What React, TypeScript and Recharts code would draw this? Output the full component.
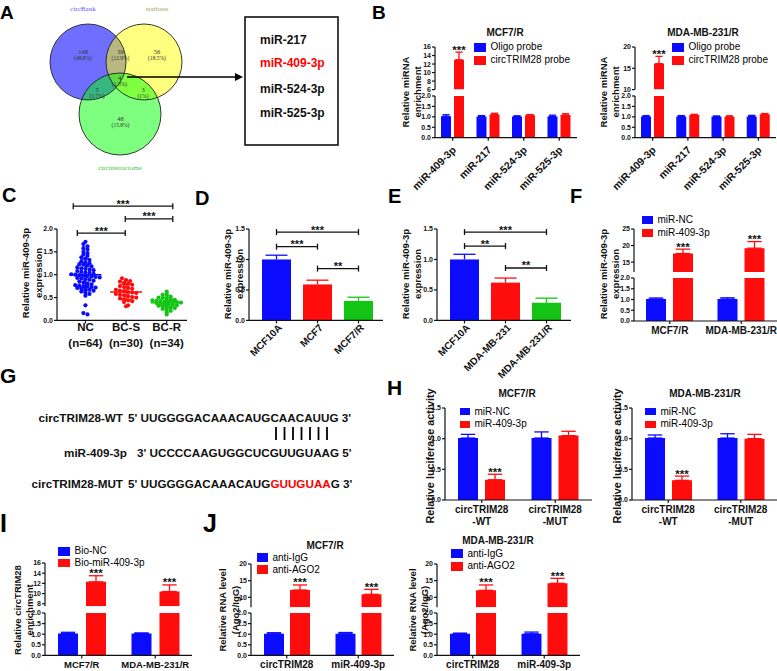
import React from 'react';
import {
  BarChart, Bar, XAxis, YAxis, ErrorBar, LabelList, Legend,
  ReferenceLine, ScatterChart, Scatter,
} from 'recharts';

const FONT = "'Liberation Sans', Arial, sans-serif";
const BLUE = '#0b0bff';
const RED = '#ff0d0d';
const GREEN = '#14c414';
const INK = '#111';

// ---- A: venn + shared miRNAs
const vennSets = ['circBank', 'starbase', 'circinteractome'];
const vennCounts = [148, 39, 56, 4, 5, 3, 48];
const vennShares = ['48.8%', '12.9%', '18.5%', '1.3%', '1.7%', '1%', '15.8%'];
const sharedMirs = ['miR-217', 'miR-409-3p', 'miR-524-3p', 'miR-525-3p'];
const highlightMir = 'miR-409-3p';

// ---- B: pull-down
const bMirs = ['miR-409-3p', 'miR-217', 'miR-524-3p', 'miR-525-3p'];
const bSig = ['***', '', '', ''];
const bMcfOligo = [1.03, 1.02, 1.02, 1.02];
const bMcfOligoErr = [0.07, 0.04, 0.03, 0.06];
const bMcfProbe = [13.0, 1.11, 1.08, 1.09];
const bMcfProbeErr = [1.8, 0.06, 0.03, 0.06];
const bMdaOligo = [1.02, 1.02, 1.02, 1.02];
const bMdaOligoErr = [0.04, 0.04, 0.02, 0.05];
const bMdaProbe = [16.1, 1.09, 1.01, 1.12];
const bMdaProbeErr = [1.7, 0.03, 0.04, 0.04];

// ---- C: tissue expression
const cGroups = ['NC', 'BC-S', 'BC-R'];
const cNC = [
  1.72, 1.67, 1.62, 1.58, 1.55, 1.5, 1.47, 1.44, 1.41, 1.38,
  1.35, 1.32, 1.29, 1.27, 1.25, 1.23, 1.22, 1.2, 1.18, 1.16,
  1.14, 1.13, 1.11, 1.1, 1.08, 1.06, 1.05, 1.04, 1.02, 1.01,
  1.0, 0.99, 0.98, 0.97, 0.96, 0.95, 0.94, 0.93, 0.92, 0.9,
  0.89, 0.87, 0.85, 0.83, 0.81, 0.79, 0.77, 0.76, 0.75, 0.74,
  0.73, 0.72, 0.71, 0.7, 0.69, 0.67, 0.65, 0.63, 0.61, 0.58,
  0.54, 0.33, 0.16, 0.13,
];
const cBCS = [
  0.92, 0.88, 0.86, 0.85, 0.82, 0.8, 0.78, 0.75, 0.73, 0.71,
  0.69, 0.67, 0.65, 0.64, 0.62, 0.61, 0.6, 0.58, 0.56, 0.55,
  0.53, 0.51, 0.5, 0.48, 0.46, 0.44, 0.42, 0.4, 0.33, 0.31,
];
const cBCR = [
  0.63, 0.58, 0.56, 0.55, 0.52, 0.5, 0.49, 0.47, 0.46, 0.45,
  0.44, 0.43, 0.42, 0.41, 0.41, 0.4, 0.4, 0.39, 0.38, 0.37,
  0.36, 0.35, 0.34, 0.33, 0.32, 0.31, 0.3, 0.28, 0.27, 0.25,
  0.23, 0.21, 0.18, 0.13,
];
const cBrackets = [
  { from: 0.7, to: 3.15, y: 2.5, label: '***' },
  { from: 1.98, to: 3.15, y: 2.22, label: '***' },
  { from: 0.8, to: 1.98, y: 1.91, label: '***' },
];

// ---- D / E: cell lines
const dCells = ['MCF10A', 'MCF7', 'MCF7/R'];
const dExpr = [1.0, 0.59, 0.32];
const dErr = [0.07, 0.07, 0.06];
const dBrackets = [
  { from: 'MCF10A', to: 'MCF7/R', y: 1.45, label: '***' },
  { from: 'MCF10A', to: 'MCF7', y: 1.21, label: '***' },
  { from: 'MCF7', to: 'MCF7/R', y: 0.85, label: '**' },
];
const eCells = ['MCF10A', 'MDA-MB-231', 'MDA-MB-231/R'];
const eExpr = [1.0, 0.62, 0.29];
const eErr = [0.085, 0.075, 0.075];
const eBrackets = [
  { from: 'MCF10A', to: 'MDA-MB-231/R', y: 1.45, label: '***' },
  { from: 'MCF10A', to: 'MDA-MB-231', y: 1.22, label: '**' },
  { from: 'MDA-MB-231', to: 'MDA-MB-231/R', y: 0.86, label: '**' },
];

// ---- F: mimic transfection
const resistant = ['MCF7/R', 'MDA-MB-231/R'];
const fSig = ['***', '***'];
const fNC = [1.02, 1.02];
const fNCErr = [0.05, 0.06];
const fMimic = [17.6, 19.2];
const fMimicErr = [1.3, 2.0];

// ---- G: binding sites
const seqWT = 'UUGGGGACAAACAUGCAACAUUG';
const seqMir = 'UCCCCAAGUGGCUCGUUGUAAG';
const seqMutHead = 'UUGGGGACAAACAUG';
const seqMutSite = 'GUUGUAA';
const seqMutTail = 'G';

// ---- H: luciferase
const hReporters = ['circTRIM28-WT', 'circTRIM28-MUT'];
const hSig = ['***', ''];
const hMcfNC = [1.01, 1.01];
const hMcfNCErr = [0.06, 0.1];
const hMcfMimic = [0.33, 1.05];
const hMcfMimicErr = [0.09, 0.07];
const hMdaNC = [1.01, 1.01];
const hMdaNCErr = [0.05, 0.07];
const hMdaMimic = [0.32, 1.0];
const hMdaMimicErr = [0.07, 0.07];

// ---- I: biotin pull-down
const iBioNC = [1.03, 1.03];
const iBioNCErr = [0.06, 0.03];
const iBioMir = [12.3, 10.4];
const iBioMirErr = [1.2, 1.3];

// ---- J: RIP
const jTargets = ['circTRIM28', 'miR-409-3p'];
const jSig = ['***', '***'];
const jMcfIgG = [1.02, 1.02];
const jMcfIgGErr = [0.05, 0.06];
const jMcfAgo = [12.2, 10.9];
const jMcfAgoErr = [1.5, 1.5];
const jMdaIgG = [1.02, 1.02];
const jMdaIgGErr = [0.03, 0.08];
const jMdaAgo = [12.1, 14.2];
const jMdaAgoErr = [1.6, 1.5];

const LOW_TICKS = [0, 0.5, 1, 1.5, 2];
const L = 44, T = 14, R = 8;
const AXIS = { stroke: INK, strokeWidth: 1.2 };
const Y_TICK = { fontSize: 7, fontWeight: 700, fill: INK };

const rotTick = (fs: number, dx: number, dy: number) => (p: any) => {
  const tx = p.x + dx, ty = p.y + dy;
  return (
    <text x={tx} y={ty} transform={`rotate(-45 ${tx} ${ty})`} textAnchor="end"
      fontSize={fs} fontWeight={700} fill={INK}>{p.payload.value}</text>
  );
};

const plainTick = (fs: number, dy: number, split = false) => (p: any) => {
  const v = String(p.payload.value);
  const cut = v.lastIndexOf('-');
  const parts = split && cut > 0 ? [v.slice(0, cut), v.slice(cut)] : [v];
  return (
    <text x={p.x} y={p.y + dy} textAnchor="middle" fontSize={fs} fontWeight={700} fill={INK}>
      {parts.map((s, i) => <tspan key={i} x={p.x} dy={i ? 12 : 0}>{s}</tspan>)}
    </text>
  );
};

const bracket = (label: string) => (p: any) => (
  <g stroke={INK} strokeWidth={1.3}>
    <line x1={p.x1} y1={p.y1} x2={p.x2} y2={p.y1} />
    <line x1={p.x1} y1={p.y1 - 3} x2={p.x1} y2={p.y1 + 3} />
    <line x1={p.x2} y1={p.y1 - 3} x2={p.x2} y2={p.y1 + 3} />
    <text x={(p.x1 + p.x2) / 2} y={p.y1 + 1.5} textAnchor="middle" fontSize={11}
      fontWeight={700} fill={INK} stroke="none">{label}</text>
  </g>
);

type Series = { name: string; color: string; vals: number[]; errs: number[] };
type Leg = { x: number; y: number; sw: number; sh: number; fs: number; lh: number };

function Segment(props: any) {
  const { cats, series, sig, x0, x1, y0, y1, domain, ticks, dec, xTick, xH = 60, legend, barSize, barGap } = props;
  const [lo, hi] = domain;
  const rows = cats.map((c: string, i: number) => {
    const r: any = { name: c, sig: sig ? sig[i] : '' };
    series.forEach((s: Series, k: number) => { r['v' + k] = s.vals[i]; r['e' + k] = s.errs[i]; });
    return r;
  });
  const shown = (v: number) => (lo === 0 ? v >= 0 : v > lo);
  const inRange = (v: number) => shown(v) && v <= hi;
  const k = (y1 - y0) / (hi - lo);
  const left = x0 - L, top = y0 - T;
  const last = series.length - 1;

  const sigLabel = (p: any) => {
    const row = rows[p.index];
    if (!row || !row.sig || !inRange(row['v' + last])) return null;
    const vb = p.viewBox || p;
    const yTop = vb.y - row['e' + last] * k;
    return (
      <text x={vb.x + vb.width / 2} y={yTop + 1.5} textAnchor="middle" fontSize={11.5}
        fontWeight={700} fill={INK}>{row.sig}</text>
    );
  };

  const legendContent = (p: any) => {
    const items = series.map((s: Series) => (p.payload || []).find((it: any) => it.value === s.name)).filter(Boolean);
    const l: Leg = legend;
    return (
      <div>
        {items.map((it: any, i: number) => (
          <div key={i} style={{ display: 'flex', alignItems: 'center', height: l.lh, whiteSpace: 'nowrap' }}>
            <span style={{ display: 'inline-block', width: l.sw, height: l.sh, background: it.color, marginRight: 4.5 }} />
            <span style={{ fontSize: l.fs, color: '#000', lineHeight: 1 }}>{it.value}</span>
          </div>
        ))}
      </div>
    );
  };

  return (
    <div style={{ position: 'absolute', left, top }}>
      <BarChart width={x1 - x0 + L + R} height={y1 - y0 + T + (xTick ? xH : 0)} data={rows}
        margin={{ top: T, right: R, left: 0, bottom: 0 }} barSize={barSize} barGap={barGap}>
        <XAxis dataKey="name" hide={!xTick} height={xH} interval={0} tick={xTick} tickSize={3}
          tickMargin={1} axisLine={AXIS} tickLine={AXIS} />
        <YAxis width={L} type="number" domain={domain} ticks={ticks} interval={0} allowDataOverflow
          tick={Y_TICK} tickSize={3} tickMargin={1} axisLine={AXIS} tickLine={AXIS}
          tickFormatter={(v: any) => Number(v).toFixed(dec)} />
        {series.map((s: Series, i: number) => (
          <Bar key={s.name} name={s.name} fill={s.color} isAnimationActive={false}
            dataKey={(d: any) => (shown(d['v' + i]) ? d['v' + i] : null)}>
            <ErrorBar dataKey={(d: any) => (inRange(d['v' + i]) ? [0, d['e' + i]] : null)}
              direction="y" width={barSize * 0.36} stroke={s.color} strokeWidth={1.3} />
            {i === last && sig ? <LabelList dataKey="sig" content={sigLabel} /> : null}
          </Bar>
        ))}
        {legend ? (
          <Legend layout="vertical" align="center" verticalAlign="middle" content={legendContent}
            wrapperStyle={{ left: legend.x - left, top: legend.y - (legend.lh - legend.sh) / 2 - top, width: 'auto', height: 'auto' }} />
        ) : null}
      </BarChart>
    </div>
  );
}

function Broken(props: any) {
  const { up, upDomain, upTicks, low, xTick, legend, ...rest } = props;
  return (
    <>
      <Segment {...rest} y0={up[0]} y1={up[1]} domain={upDomain} ticks={upTicks} dec={0} legend={legend} />
      <Segment {...rest} y0={low[0]} y1={low[1]} domain={[0, 2]} ticks={LOW_TICKS} dec={1} xTick={xTick} />
    </>
  );
}

function CellBars({ cats, vals, errs, x0, x1, y0, y1, brackets }: any) {
  const colors = [BLUE, RED, GREEN];
  const rows = cats.map((c: string, i: number) => ({ name: c, v: vals[i], e: errs[i], color: colors[i] }));
  const k = (y1 - y0) / 1.5;
  const shape = (p: any) => {
    const { x, y, width, height, payload } = p;
    const cx = x + width / 2, ey = y - payload.e * k, cw = width * 0.38;
    return (
      <g>
        <rect x={x} y={y} width={width} height={height} fill={payload.color} />
        <line x1={cx} x2={cx} y1={y} y2={ey} stroke={payload.color} strokeWidth={1.3} />
        <line x1={cx - cw} x2={cx + cw} y1={ey} y2={ey} stroke={payload.color} strokeWidth={1.3} />
      </g>
    );
  };
  return (
    <div style={{ position: 'absolute', left: x0 - L, top: y0 - T }}>
      <BarChart width={x1 - x0 + L + R} height={y1 - y0 + T + 60} data={rows}
        margin={{ top: T, right: R, left: 0, bottom: 0 }} barSize={29}>
        <XAxis dataKey="name" height={60} interval={0} padding={{ left: 7, right: 4 }}
          tick={rotTick(10, 6, 4)} tickSize={3} tickMargin={1} axisLine={AXIS} tickLine={AXIS} />
        <YAxis width={L} type="number" domain={[0, 1.5]} ticks={[0, 0.5, 1, 1.5]} interval={0}
          tick={Y_TICK} tickSize={3} tickMargin={1} axisLine={AXIS} tickLine={AXIS}
          tickFormatter={(v: any) => Number(v).toFixed(1)} />
        <Bar dataKey="v" shape={shape} isAnimationActive={false} />
        {brackets.map((b: any, i: number) => (
          <ReferenceLine key={i} segment={[{ x: b.from, y: b.y }, { x: b.to, y: b.y }]}
            ifOverflow="visible" shape={bracket(b.label)} />
        ))}
      </BarChart>
    </div>
  );
}

function swarm(vals: number[], cx: number, binH: number, step: number) {
  const bins = new Map<number, number[]>();
  vals.forEach((v) => {
    const b = Math.round(v / binH);
    if (!bins.has(b)) bins.set(b, []);
    bins.get(b)!.push(v);
  });
  const pts: any[] = [];
  bins.forEach((list) => list.forEach((v, i) => pts.push({ x: cx + (i - (list.length - 1) / 2) * step, y: v })));
  return pts;
}
const mean = (a: number[]) => a.reduce((s, v) => s + v, 0) / a.length;
const sd = (a: number[]) => {
  const m = mean(a);
  return Math.sqrt(a.reduce((s, v) => s + (v - m) * (v - m), 0) / (a.length - 1));
};

function PanelC() {
  const x0 = 57, x1 = 187, y0 = 229.3, y1 = 320.7;
  const groups = [cNC, cBCS, cBCR];
  const colors = [BLUE, RED, GREEN];
  const bins = [0.075, 0.09, 0.06];
  const cTick = (p: any) => {
    const i = Math.round(p.payload.value) - 1;
    return (
      <text x={p.x} y={p.y + 6.5} textAnchor="middle" fontSize={11.5} fontWeight={700} fill={INK}>
        <tspan x={p.x}>{cGroups[i]}</tspan>
        <tspan x={p.x} dy={16.5}>{`(n=${groups[i].length})`}</tspan>
      </text>
    );
  };
  return (
    <div style={{ position: 'absolute', left: x0 - L, top: y0 - T }}>
      <ScatterChart width={x1 - x0 + L + R} height={y1 - y0 + T + 40}
        margin={{ top: T, right: R, left: 0, bottom: 0 }}>
        <XAxis type="number" dataKey="x" domain={[0.3, 3.5]} ticks={[1, 2, 3]} interval={0} height={40}
          allowDataOverflow tick={cTick} tickSize={3} tickMargin={1} axisLine={AXIS} tickLine={AXIS} />
        <YAxis type="number" dataKey="y" width={L} domain={[0, 2]} ticks={LOW_TICKS} interval={0}
          allowDataOverflow tick={Y_TICK} tickSize={3} tickMargin={1} axisLine={AXIS} tickLine={AXIS}
          tickFormatter={(v: any) => Number(v).toFixed(1)} />
        {groups.map((g, i) => (
          <Scatter key={'d' + i} data={swarm(g, i + 1, bins[i], 0.1)} fill={colors[i]} isAnimationActive={false}
            shape={(p: any) => <circle cx={p.cx} cy={p.cy} r={2.1} fill={colors[i]} />} />
        ))}
        {groups.map((g, i) => (
          <Scatter key={'m' + i} data={[{ x: i + 1, y: mean(g), sd: sd(g) }]} isAnimationActive={false}
            shape={(p: any) => <line x1={p.cx - 16} x2={p.cx + 16} y1={p.cy} y2={p.cy} stroke={colors[i]} strokeWidth={1.5} />}>
            <ErrorBar dataKey="sd" direction="y" width={5} stroke={colors[i]} strokeWidth={1.3} />
          </Scatter>
        ))}
        {cBrackets.map((b, i) => (
          <ReferenceLine key={i} segment={[{ x: b.from, y: b.y }, { x: b.to, y: b.y }]}
            ifOverflow="visible" shape={bracket(b.label)} />
        ))}
      </ScatterChart>
    </div>
  );
}

const two = (aName: string, aColor: string, a: number[], ae: number[], bName: string, bColor: string, b: number[], be: number[]) => [
  { name: aName, color: aColor, vals: a, errs: ae },
  { name: bName, color: bColor, vals: b, errs: be },
];

const yTitles = [
  { lines: ['Relative miRNA', 'enrichment'], xs: [405, 417], cy: 92, fs: 9.5 },
  { lines: ['Relative miRNA', 'enrichment'], xs: [603, 615], cy: 92, fs: 9.5 },
  { lines: ['Relative miR-409-3p', 'expression'], xs: [25, 38], cy: 273, fs: 9.5 },
  { lines: ['Relative miR-409-3p', 'expression'], xs: [227, 239], cy: 274, fs: 9.5 },
  { lines: ['Relative miR-409-3p', 'expression'], xs: [405, 417], cy: 274, fs: 9.5 },
  { lines: ['Relative miR-409-3p', 'expression'], xs: [603, 615], cy: 274, fs: 9.5 },
  { lines: ['Relative luciferase activity'], xs: [430], cy: 456, fs: 10.8 },
  { lines: ['Relative luciferase activity'], xs: [617], cy: 456, fs: 10.8 },
  { lines: ['Relative circTRIM28', 'enrichment'], xs: [17, 29], cy: 610, fs: 9.5 },
  { lines: ['Relative RNA level', '(Ago2/IgG)'], xs: [222, 235], cy: 610, fs: 9.5 },
  { lines: ['Relative RNA level', '(Ago2/IgG)'], xs: [412, 424], cy: 610, fs: 9.5 },
];
const titles = [
  { t: 'MCF7/R', x: 505, y: 35.5 }, { t: 'MDA-MB-231/R', x: 703, y: 35.5 },
  { t: 'MCF7/R', x: 517, y: 397 }, { t: 'MDA-MB-231/R', x: 705, y: 397 },
  { t: 'MCF7/R', x: 325, y: 548.5 }, { t: 'MDA-MB-231/R', x: 498, y: 544 },
];
const letters: [string, number, number, number][] = [
  ['A', 0, 18.5, 19], ['B', 372, 18.5, 19], ['C', 2, 201.5, 20], ['D', 195, 205, 20],
  ['E', 388, 203, 20], ['F', 570, 203, 20], ['G', 0, 383, 21], ['H', 387, 395, 21],
  ['I', 0, 532, 25], ['J', 203, 532, 25],
];

function Overlay() {
  const circles = [
    { cx: 88, cy: 62, r: 38, fill: '#0000ff', op: 0.57 },
    { cx: 144, cy: 62, r: 38, fill: '#ffff00', op: 0.5 },
    { cx: 120, cy: 114, r: 41, fill: '#00ff00', op: 0.5 },
  ];
  const regionPos = [[83, 52], [120.5, 52], [157, 52], [119.5, 77.5], [97, 90], [143, 90], [120.5, 119]];
  const setPos = [[83, 11, '#5c5cf2'], [157, 11, '#a3a35a'], [120, 170, '#3fbf3f']];
  const mirY = [44, 67, 93, 117];
  const seq: any = { fontSize: 11.7, fontWeight: 700, fill: INK };
  return (
    <svg width={777} height={671} style={{ position: 'absolute', left: 0, top: 0, pointerEvents: 'none' }}>
      {letters.map(([t, x, y, fs]) => (
        <text key={t} x={x} y={y} fontSize={fs} fontWeight={700} fill="#000">{t}</text>
      ))}
      {/* A */}
      {circles.map((c, i) => <circle key={'f' + i} cx={c.cx} cy={c.cy} r={c.r} fill={c.fill} fillOpacity={c.op} />)}
      {circles.map((c, i) => <circle key={'s' + i} cx={c.cx} cy={c.cy} r={c.r} fill="none" stroke="#222" strokeWidth={0.9} />)}
      <g fontFamily="'Liberation Serif', serif" textAnchor="middle">
        {vennSets.map((s, i) => (
          <text key={s} x={setPos[i][0] as number} y={setPos[i][1] as number} fontSize={7} fill={setPos[i][2] as string}>{s}</text>
        ))}
        {vennCounts.map((n, i) => (
          <g key={i} fill="#333">
            <text x={regionPos[i][0]} y={regionPos[i][1] + 2} fontSize={6.5}>{n}</text>
            <text x={regionPos[i][0]} y={regionPos[i][1] + 8} fontSize={5.5}>{`(${vennShares[i]})`}</text>
          </g>
        ))}
      </g>
      <line x1={127} y1={77} x2={236} y2={77} stroke="#000" strokeWidth={1.3} />
      <polygon points="235,73 243,77 235,81" fill="#000" />
      <rect x={245} y={17} width={93} height={128} fill="none" stroke="#111" strokeWidth={1.6} />
      {sharedMirs.map((m, i) => (
        <text key={m} x={260} y={mirY[i]} fontSize={12} fontWeight={700} fill={m === highlightMir ? '#ff0000' : INK}>{m}</text>
      ))}
      {/* titles */}
      {titles.map((t, i) => (
        <text key={i} x={t.x} y={t.y} textAnchor="middle" fontSize={10} fontWeight={700} fill={INK}>{t.t}</text>
      ))}
      {yTitles.map((t, i) => t.lines.map((ln, j) => (
        <text key={i + '-' + j} x={t.xs[j]} y={t.cy} transform={`rotate(-90 ${t.xs[j]} ${t.cy})`}
          textAnchor="middle" dominantBaseline="central" fontSize={t.fs} fontWeight={700} fill={INK}>{ln}</text>
      )))}
      {/* G */}
      <text x={123} y={422} textAnchor="end" {...seq}>circTRIM28-WT</text>
      <text x={128} y={422} {...seq}>{`5' ${seqWT} 3'`}</text>
      {Array.from({ length: 7 }).map((_, i) => (
        <line key={i} x1={276 + i * 8.5} x2={276 + i * 8.5} y1={427} y2={440} stroke="#000" strokeWidth={1.8} />
      ))}
      <text x={127} y={457} textAnchor="end" {...seq}>miR-409-3p</text>
      <text x={137} y={457} {...seq}>{`3' ${seqMir} 5'`}</text>
      <text x={123} y={488} textAnchor="end" {...seq}>circTRIM28-MUT</text>
      <text x={128} y={488} {...seq}>
        {`5' ${seqMutHead}`}<tspan fill="#ff0000">{seqMutSite}</tspan>{`${seqMutTail} 3'`}
      </text>
    </svg>
  );
}

export default function App() {
  const bTick = rotTick(10.5, 4, 9);
  return (
    <div style={{ position: 'absolute', left: 0, top: 0, width: 777, height: 671, overflow: 'hidden', background: '#fff', fontFamily: FONT }}>
      <style>{'.recharts-surface{overflow:visible}'}</style>

      <Broken cats={bMirs} sig={bSig} x0={435} x1={577} barSize={10} barGap={3}
        series={two('Oligo probe', BLUE, bMcfOligo, bMcfOligoErr, 'circTRIM28 probe', RED, bMcfProbe, bMcfProbeErr)}
        up={[46.7, 89.3]} upDomain={[6, 16]} upTicks={[6, 8, 10, 12, 14, 16]} low={[96, 137.7]} xTick={bTick}
        legend={{ x: 474, y: 43, sw: 12, sh: 9, fs: 10, lh: 13 }} />
      <Broken cats={bMirs} sig={bSig} x0={635} x1={776} barSize={10} barGap={3}
        series={two('Oligo probe', BLUE, bMdaOligo, bMdaOligoErr, 'circTRIM28 probe', RED, bMdaProbe, bMdaProbeErr)}
        up={[46.7, 89.3]} upDomain={[10, 20]} upTicks={[10, 15, 20]} low={[96, 137.7]} xTick={bTick}
        legend={{ x: 672, y: 43, sw: 12, sh: 9, fs: 10, lh: 13 }} />

      <PanelC />
      <CellBars cats={dCells} vals={dExpr} errs={dErr} x0={249} x1={383} y0={229.3} y1={320.7} brackets={dBrackets} />
      <CellBars cats={eCells} vals={eExpr} errs={eErr} x0={437} x1={571} y0={229.3} y1={320.7} brackets={eBrackets} />

      <Broken cats={resistant} sig={fSig} x0={634} x1={777} barSize={20} barGap={7}
        series={two('miR-NC', BLUE, fNC, fNCErr, 'miR-409-3p', RED, fMimic, fMimicErr)}
        up={[229, 272]} upDomain={[12, 25]} upTicks={[15, 20, 25]} low={[278, 321]} xTick={plainTick(10, 8.5)}
        legend={{ x: 642, y: 216, sw: 11, sh: 8, fs: 10, lh: 12.5 }} />

      <Segment cats={hReporters} sig={hSig} x0={445} x1={592} y0={408} y1={500} domain={[0, 1.5]}
        ticks={[0, 0.5, 1, 1.5]} dec={1} barSize={20} barGap={7} xTick={plainTick(10, 9, true)}
        series={two('miR-NC', BLUE, hMcfNC, hMcfNCErr, 'miR-409-3p', RED, hMcfMimic, hMcfMimicErr)}
        legend={{ x: 460, y: 408, sw: 10, sh: 7.5, fs: 10, lh: 12.7 }} />
      <Segment cats={hReporters} sig={hSig} x0={632} x1={777} y0={408} y1={500} domain={[0, 1.5]}
        ticks={[0, 0.5, 1, 1.5]} dec={1} barSize={20} barGap={7} xTick={plainTick(10, 9, true)}
        series={two('miR-NC', BLUE, hMdaNC, hMdaNCErr, 'miR-409-3p', RED, hMdaMimic, hMdaMimicErr)}
        legend={{ x: 645, y: 408, sw: 11, sh: 7.5, fs: 10, lh: 12.7 }} />

      <Broken cats={resistant} sig={fSig} x0={45} x1={192} barSize={20} barGap={8}
        series={two('Bio-NC', BLUE, iBioNC, iBioNCErr, 'Bio-miR-409-3p', RED, iBioMir, iBioMirErr)}
        up={[563.3, 606.6]} upDomain={[7.5, 16]} upTicks={[8, 10, 12, 14, 16]} low={[613.3, 655.7]}
        xTick={plainTick(9.5, 9)} legend={{ x: 58, y: 547, sw: 12, sh: 8.5, fs: 10, lh: 11.5 }} />

      <Broken cats={jTargets} sig={jSig} x0={251} x1={394} barSize={20} barGap={6}
        series={two('anti-IgG', BLUE, jMcfIgG, jMcfIgGErr, 'anti-AGO2', RED, jMcfAgo, jMcfAgoErr)}
        up={[564, 607.3]} upDomain={[7, 20]} upTicks={[10, 15, 20]} low={[613.3, 655.7]}
        xTick={plainTick(10, 8.5)} legend={{ x: 257, y: 553, sw: 11, sh: 9, fs: 10, lh: 12 }} />
      <Broken cats={jTargets} sig={jSig} x0={437} x1={580} barSize={20} barGap={6}
        series={two('anti-IgG', BLUE, jMdaIgG, jMdaIgGErr, 'anti-AGO2', RED, jMdaAgo, jMdaAgoErr)}
        up={[564, 607.3]} upDomain={[7, 20]} upTicks={[10, 15, 20]} low={[613.3, 655.7]}
        xTick={plainTick(10, 8.5)} legend={{ x: 451, y: 549, sw: 12, sh: 9, fs: 10, lh: 12.5 }} />

      <Overlay />
    </div>
  );
}
